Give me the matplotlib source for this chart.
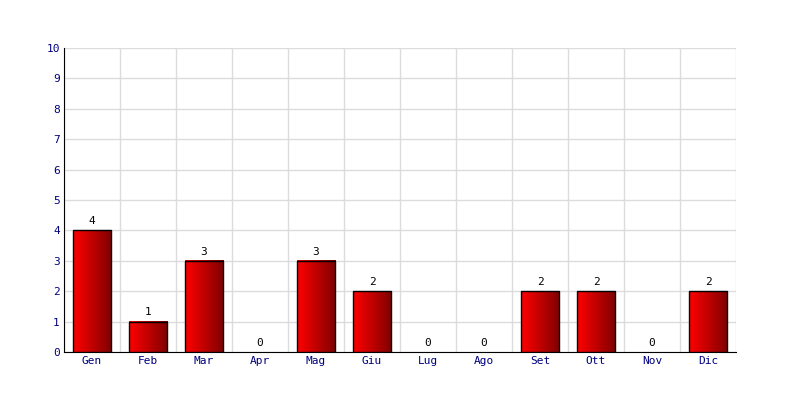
import matplotlib
matplotlib.use("Agg")
import matplotlib.pyplot as plt
import numpy as np
from matplotlib.colors import LinearSegmentedColormap

months = ["Gen", "Feb", "Mar", "Apr", "Mag", "Giu", "Lug", "Ago", "Set", "Ott", "Nov", "Dic"]
values = [4, 1, 3, 0, 3, 2, 0, 0, 2, 2, 0, 2]
yticks = list(range(0, 11))

plt.rcParams['font.family'] = ['DejaVu Sans Mono']

fig = plt.figure(figsize=(8, 4), dpi=100)
ax = fig.add_axes([0.08, 0.12, 0.84, 0.76])

cmap = LinearSegmentedColormap.from_list("redgrad", ["#ff0000", "#800000"])
grad = np.linspace(0, 1, 64).reshape(1, -1)
w = 0.68

x = np.arange(len(months))
for i, v in enumerate(values):
    if v > 0:
        ax.imshow(grad, cmap=cmap, aspect='auto', extent=(i - w/2, i + w/2, 0, v), zorder=3)
        ax.add_patch(plt.Rectangle((i - w/2, 0), w, v, fill=False, edgecolor='black', linewidth=1, zorder=4))
    ax.annotate(str(v), (i, v), xytext=(0, 3), textcoords='offset points',
                ha='center', va='bottom', fontsize=8, color='black', zorder=5)

ax.set_xlim(-0.5, len(months) - 0.5)
ax.set_ylim(0, 10)
ax.set_xticks(x)
ax.set_xticklabels(months)
ax.set_yticks(yticks)
ax.tick_params(length=0, labelsize=8, labelcolor='#000080', pad=3)

ax.set_xticks(np.arange(-0.5, len(months) + 0.5, 1), minor=True)
ax.tick_params(which='minor', length=0)
ax.grid(which='minor', axis='x', color='#dcdcdc', linewidth=1, zorder=0)
ax.grid(which='major', axis='y', color='#dcdcdc', linewidth=1, zorder=0)
ax.set_axisbelow(True)

for s in ['top', 'right']:
    ax.spines[s].set_visible(False)
ax.spines['left'].set_color('black')
ax.spines['bottom'].set_color('black')

fig.savefig("out.png", dpi=100, facecolor='white')
